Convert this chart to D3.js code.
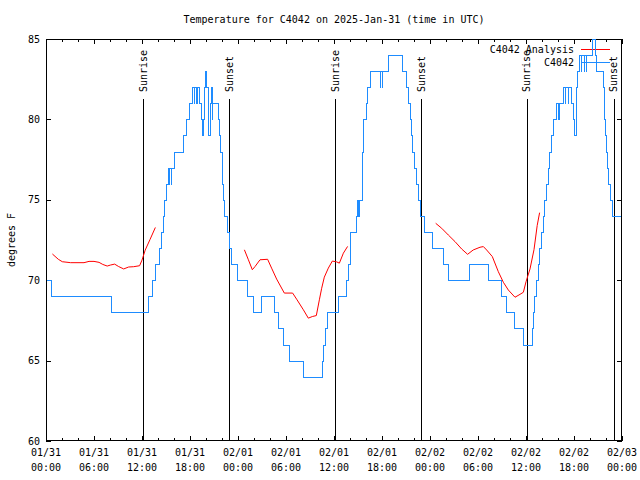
<!DOCTYPE html>
<html><head><meta charset="utf-8">
<script src="https://cdn.jsdelivr.net/npm/d3@7"></script>
<style>
html,body{margin:0;padding:0;background:#fff;}
text{font-family:"DejaVu Sans Mono",monospace;font-size:10px;fill:#000;}
</style></head>
<body>
<svg id="chart" width="640" height="480"></svg>
<script>
// ---- data (hours since 2025-01-31 00:00 UTC, degrees F) ----
const title = "Temperature for C4042 on 2025-Jan-31 (time in UTC)";
const yLabel = "degrees F";
const yTicks = [60, 65, 70, 75, 80, 85];
const xTickHours = [0, 6, 12, 18, 24, 30, 36, 42, 48, 54, 60, 66, 72];
const xTickLabels = [
  ["01/31","00:00"],["01/31","06:00"],["01/31","12:00"],["01/31","18:00"],
  ["02/01","00:00"],["02/01","06:00"],["02/01","12:00"],["02/01","18:00"],
  ["02/02","00:00"],["02/02","06:00"],["02/02","12:00"],["02/02","18:00"],
  ["02/03","00:00"]];
const sunriseHours = [12.13, 36.15, 60.1];
const sunsetHours = [22.92, 46.92, 70.95];
const legendNames = ["C4042 Analysis", "C4042"];

// observed temperature (value holds from given hour until next point)
const observed = [
  [0,70],[0.6,69],[8.1,68],[12.75,69],[13.2,70],[13.6,71],[14.1,72],[14.4,73],[14.6,74],[14.8,75],
  [15.0,76],[15.2,77],[15.32,76],[15.34,77],[15.6,76],[15.62,77],[16.0,78],[17.15,79],[17.55,80],[17.9,81],
  [18.25,82],[18.45,81],[18.47,82],[18.8,81],[18.82,82],[19.1,81],[19.35,80],[19.5,79],[19.65,80],[19.75,82],
  [19.9,83],[20.05,82],[20.2,80],[20.3,79],[20.45,81],[20.6,82],[20.7,80],[20.8,81],[21.45,80],[21.65,79],
  [21.8,78],[21.95,77],[22.05,76],[22.15,75],[22.3,74],[22.65,73],[22.85,72],[23.1,71],[23.9,70],[25.15,69],
  [25.9,68],[26.85,69],[28.45,68],[28.95,67],[29.65,66],[30.4,65],[32.15,64],[34.45,65],[34.65,66],[34.85,67],
  [35.1,68],[36.45,69],[37.45,70],[37.8,71],[37.95,72],[38.05,73],[38.75,74],[38.9,75],[39.05,74],[39.07,75],
  [39.45,76],[39.5,77],[39.55,78],[39.6,79],[39.65,80],[39.95,81],[40.1,82],[40.5,83],
  [41.7,82],[41.72,83],[41.95,82],[41.97,83],[42.8,84],[44.45,83],[44.95,82],[45.2,81],[45.45,80],[45.6,79],
  [45.8,78],[46.0,77],[46.2,76],[46.45,75],[46.7,74],[47.2,73],[48.3,72],[49.6,71],[50.3,70],[52.85,71],
  [55.25,70],[56.85,69],[57.5,68],[58.45,67],[59.6,66],[60.7,67],[60.85,68],[61.0,69],[61.2,70],[61.45,71],
  [61.65,72],[61.85,73],[62.1,74],[62.3,75],[62.55,76],[62.7,77],[62.85,78],[63.1,79],[63.4,80],[63.75,81],
  [64.05,80],[64.07,81],[64.6,82],[64.85,81],[64.87,82],[65.2,81],[65.22,82],
  [65.6,81],[65.85,80],[66.05,79],[66.2,82],[66.4,83],[66.6,84],[66.85,83],[66.87,84],[67.2,83],
  [67.22,84],[67.5,83],[67.52,84],[68.3,85],[68.6,84],[68.7,83],[69.6,82],[69.7,81],
  [69.8,80],[69.9,79],[70.0,78],[70.15,77],[70.3,76],[70.5,75],[70.8,74],[71.8,74]];

// analysis series, three separate runs
const analysis1 = [
  [0.8,71.63],[1.54,71.3],[2.04,71.15],[3.08,71.09],[4.75,71.09],[5.38,71.17],[6.0,71.17],[6.63,71.11],
  [7.1,70.98],[7.65,70.88],[8.04,70.94],[8.58,71.0],[9.08,70.85],[9.71,70.7],[10.33,70.82],[10.96,70.84],
  [11.7,70.9],[12.0,71.25],[12.4,71.87],[13.0,72.53],[13.67,73.28]];
const analysis2 = [
  [24.8,71.89],[25.3,71.27],[25.79,70.65],[26.13,70.85],[26.75,71.27],[27.7,71.3],[28.2,70.75],[28.83,70.07],
  [29.79,69.2],[30.83,69.2],[31.33,68.82],[32.17,68.16],[32.79,67.64],[33.29,67.74],[33.79,67.8],[34.17,68.78],
  [34.46,69.5],[34.79,70.19],[35.29,70.75],[35.79,71.19],[36.33,71.14],[36.67,71.06],[37.17,71.68],[37.7,72.1]];
const analysis3 = [
  [48.71,73.54],[49.46,73.23],[50.29,72.81],[51.125,72.4],[51.96,71.94],[52.7,71.61],[53.4,71.88],[54.25,72.05],
  [54.67,72.09],[55.08,71.88],[55.79,71.47],[56.54,70.53],[57.17,69.87],[57.79,69.39],[58.625,68.94],[59.25,69.12],
  [59.67,69.25],[60.0,69.9],[60.5,70.7],[61.0,71.9],[61.4,73.4],[61.7,74.2]];

// ---- drawing ----
const L = 46, R = 622, T = 39, B = 441;
const svg = d3.select("#chart");
const x = d3.scaleLinear().domain([0, 72]).range([L, R]);
const y = d3.scaleLinear().domain([60, 85]).range([B, T]);
const blue = "#1e8cff", red = "#ff0000";

svg.append("text").attr("x", (L + R) / 2).attr("y", 19).attr("dy", "0.35em")
  .attr("text-anchor", "middle").text(title);

svg.append("text").attr("transform", `translate(11,${(T + B) / 2}) rotate(-90)`)
  .attr("dy", "0.35em").attr("text-anchor", "middle").text(yLabel);

// y ticks (left & right, inward)
const g = svg.append("g").attr("shape-rendering", "crispEdges");
yTicks.forEach(v => {
  const yy = Math.round(y(v)) + 0.5;
  g.append("line").attr("x1", L).attr("x2", L + 5).attr("y1", yy).attr("y2", yy).attr("stroke", "#000");
  g.append("line").attr("x1", R - 5).attr("x2", R).attr("y1", yy).attr("y2", yy).attr("stroke", "#000");
  svg.append("text").attr("x", L - 6).attr("y", y(v)).attr("dy", "0.35em")
    .attr("text-anchor", "end").text(v);
});
// x ticks: major every 6h, minor every 2h
d3.range(0, 73, 2).forEach(h => {
  const xx = Math.round(x(h)) + 0.5;
  const len = (h % 6 === 0) ? 5 : 3;
  g.append("line").attr("x1", xx).attr("x2", xx).attr("y1", B).attr("y2", B - len).attr("stroke", "#000");
  g.append("line").attr("x1", xx).attr("x2", xx).attr("y1", T).attr("y2", T + len).attr("stroke", "#000");
});
xTickHours.forEach((h, i) => {
  const t = svg.append("text").attr("x", x(h)).attr("text-anchor", "middle");
  t.append("tspan").attr("x", x(h)).attr("y", 456).text(xTickLabels[i][0]);
  t.append("tspan").attr("x", x(h)).attr("y", 471).text(xTickLabels[i][1]);
});

// sunrise / sunset markers
function marker(h, label) {
  const xx = Math.round(x(h)) + 0.5;
  g.append("line").attr("x1", xx).attr("x2", xx).attr("y1", 99).attr("y2", B).attr("stroke", "#000");
  svg.append("text").attr("transform", `translate(${x(h)},92) rotate(-90)`)
    .attr("dy", "0.35em").attr("text-anchor", "start").text(label);
}
sunriseHours.forEach(h => marker(h, "Sunrise"));
sunsetHours.forEach(h => marker(h, "Sunset"));

// series
svg.append("clipPath").attr("id", "clip").append("rect")
  .attr("x", L).attr("y", T).attr("width", R - L).attr("height", B - T);
const px = v => Math.round(x(v)) + 0.5, py = v => Math.round(y(v)) + 0.5;
const lineStep = d3.line().x(d => px(d[0])).y(d => py(d[1])).curve(d3.curveStepAfter);
const lineLin = d3.line().x(d => x(d[0])).y(d => y(d[1]));
const plot = svg.append("g").attr("clip-path", "url(#clip)");
[analysis1, analysis2, analysis3].forEach(a => {
  plot.append("path").attr("d", lineLin(a)).attr("fill", "none").attr("stroke", red).attr("stroke-width", 1);
});
plot.append("path").attr("d", lineStep(observed)).attr("fill", "none").attr("stroke", blue)
  .attr("stroke-width", 1).attr("shape-rendering", "crispEdges");

// legend
const legendColors = [red, blue];
legendNames.forEach((n, i) => {
  const ly = 49 + i * 13;
  svg.append("text").attr("x", 574).attr("y", ly).attr("dy", "0.35em").attr("text-anchor", "end").text(n);
  g.append("line").attr("x1", 581).attr("x2", 610).attr("y1", ly + 0.5).attr("y2", ly + 0.5)
    .attr("stroke", legendColors[i]);
});

// frame
g.append("rect").attr("x", L + 0.5).attr("y", T + 0.5).attr("width", R - L - 1).attr("height", B - T - 1)
  .attr("fill", "none").attr("stroke", "#000");
</script>
</body></html>
